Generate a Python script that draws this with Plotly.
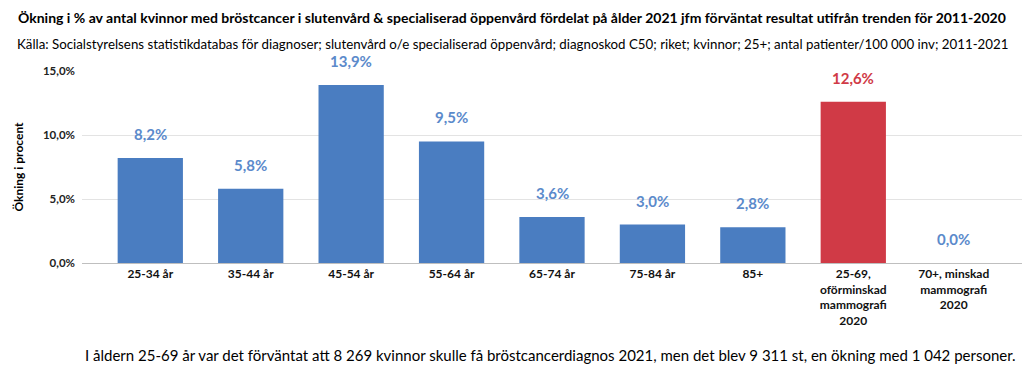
import plotly.graph_objects as go

categories = ["25-34 år", "35-44 år", "45-54 år", "55-64 år", "65-74 år", "75-84 år", "85+",
              "25-69,<br>oförminskad<br>mammografi<br>2020", "70+, minskad<br>mammografi<br>2020"]
values = [8.2, 5.8, 13.9, 9.5, 3.6, 3.0, 2.8, 12.6, 0.0]
labels = ["8,2%", "5,8%", "13,9%", "9,5%", "3,6%", "3,0%", "2,8%", "12,6%", "0,0%"]
tick_vals = [0, 5, 10, 15]
tick_text = ["0,0%", "5,0%", "10,0%", "15,0%"]

BLUE = "#4A7DC1"
RED = "#D03A46"
LBLUE = "#5B8ACB"
colors = [BLUE] * 7 + [RED, BLUE]
label_colors = [LBLUE] * 7 + [RED, LBLUE]

font = "Lato, Open Sans, sans-serif"

L, R, T, B = 82, 2, 71, 115
W, H = 1024, 378
pw, ph = W - L - R, H - T - B

fig = go.Figure(go.Bar(
    x=categories, y=values, marker_color=colors, marker_line_width=0,
    cliponaxis=False, hoverinfo="x+y",
))

for c, v, lbl, col in zip(categories, values, labels, label_colors):
    fig.add_annotation(x=c, y=v, text="<b>" + lbl + "</b>", yshift=24, showarrow=False,
                       yanchor="middle", font=dict(family=font, size=15, color=col))

fig.update_layout(
    width=W, height=H,
    margin=dict(l=L, r=R, t=T, b=B, autoexpand=False),
    paper_bgcolor="white", plot_bgcolor="white",
    bargap=0.35, showlegend=False,
    font=dict(family=font, color="black"),
)
fig.update_yaxes(range=[0, 15], tickvals=tick_vals, ticktext=["<b>" + t + "</b>" for t in tick_text],
                 showgrid=True, gridcolor="#E3E3E3", gridwidth=1,
                 zeroline=True, zerolinecolor="#BFBFBF", zerolinewidth=1,
                 tickfont=dict(family=font, size=11.5, color="#222"),
                 ticks="", ticklabelstandoff=6, automargin=False,
                 title=dict(text="<b>Ökning i procent</b>", font=dict(family=font, size=12), standoff=16))
fig.update_xaxes(range=[-0.68, 8.68], tickvals=categories, ticktext=["<b>" + c + "</b>" for c in categories],
                 tickfont=dict(family=font, size=12, color="#111"), ticks="",
                 tickangle=0, showline=False, automargin=False, ticklabelstandoff=2)

def px_x(x):
    return (x - L) / pw

def px_y(y):
    return (H - B - y) / ph

fig.add_annotation(text="<b>Ökning i % av antal kvinnor med bröstcancer i slutenvård & specialiserad öppenvård fördelat på ålder 2021 jfm förväntat resultat utifrån trenden för 2011-2020</b>",
                   xref="paper", yref="paper", x=px_x(512), xanchor="center",
                   y=px_y(17), yanchor="middle",
                   showarrow=False, font=dict(family=font, size=14, color="black"))
fig.add_annotation(text="Källa: Socialstyrelsens statistikdatabas för diagnoser; slutenvård o/e specialiserad öppenvård; diagnoskod C50; riket; kvinnor; 25+; antal patienter/100 000 inv; 2011-2021",
                   xref="paper", yref="paper", x=px_x(512), xanchor="center",
                   y=px_y(44), yanchor="middle",
                   showarrow=False, font=dict(family=font, size=13.3, color="black"))
fig.add_annotation(text="I åldern 25-69 år var det förväntat att 8 269 kvinnor skulle få bröstcancerdiagnos 2021, men det blev 9 311 st, en ökning med 1 042 personer.",
                   xref="paper", yref="paper", x=px_x(1018), xanchor="right",
                   y=px_y(355), yanchor="middle",
                   showarrow=False, font=dict(family=font, size=15, color="black"))

fig.write_html("out.html", config={"displayModeBar": False},
               post_script="document.body.style.margin='0';")
